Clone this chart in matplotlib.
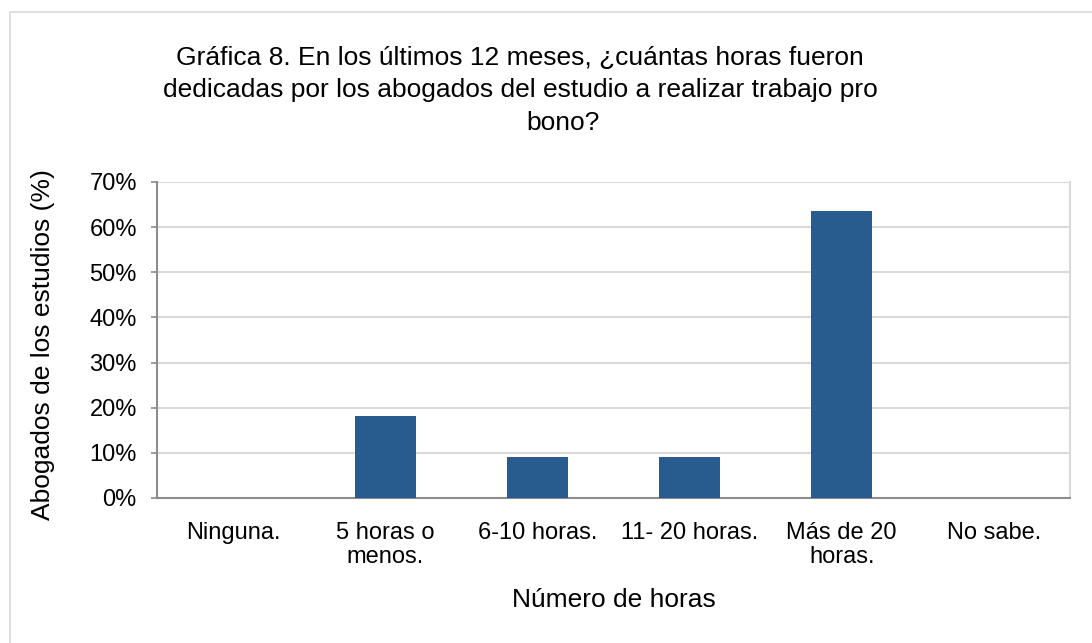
import matplotlib
matplotlib.use("Agg")
import matplotlib.pyplot as plt
from matplotlib.lines import Line2D
from matplotlib.ticker import FuncFormatter

categories = ["Ninguna.", "5 horas o\nmenos.", "6-10 horas.", "11- 20 horas.", "Más de 20\nhoras.", "No sabe."]
values = [0.0, 18.18, 9.09, 9.09, 63.64, 0.0]
yticks = [0, 10, 20, 30, 40, 50, 60, 70]
title_lines = ["Gráfica 8. En los últimos 12 meses, ¿cuántas horas fueron",
               "dedicadas por los abogados del estudio a realizar trabajo pro",
               "bono?"]

plt.rcParams['font.family'] = ['Liberation Sans', 'DejaVu Sans']

W, H = 1092, 643
fig = plt.figure(figsize=(W / 100, H / 100), dpi=100)
fig.patch.set_facecolor("white")

# outer border (only left and top visible, chart is cropped)
fig.add_artist(Line2D([9.5 / W, 9.5 / W, 1.0], [0.0, 1 - 11.5 / H, 1 - 11.5 / H],
                      transform=fig.transFigure, color="#d9d9d9", lw=1.2))

ax = fig.add_axes([157 / W, 1 - 498 / H, (1070 - 157) / W, (498 - 182) / H])
x = list(range(len(categories)))
ax.bar(x, values, width=0.4, color="#295C8E", zorder=3)
ax.set_xlim(-0.5, len(categories) - 0.5)
ax.set_ylim(0, 70)
ax.set_yticks(yticks)
ax.yaxis.set_major_formatter(FuncFormatter(lambda v, p: f"{int(v)}%"))
ax.set_xticks(x)
ax.set_xticklabels(categories, fontsize=17, linespacing=1.12)
ax.tick_params(axis="x", length=0, pad=17)
ax.tick_params(axis="y", labelsize=17, length=4.5, color="#8c8c8c", width=1.2, pad=10)
ax.grid(axis="y", color="#d9d9d9", lw=1.5, zorder=0)
ax.set_axisbelow(True)
ax.spines["top"].set_visible(False)
ax.spines["right"].set_color("#d9d9d9")
ax.spines["right"].set_linewidth(1.5)
ax.spines["left"].set_color("#8c8c8c")
ax.spines["left"].set_linewidth(1.5)
ax.spines["bottom"].set_color("#8c8c8c")
ax.spines["bottom"].set_linewidth(1.5)

ax.set_xlabel("Número de horas", fontsize=19)
ax.xaxis.set_label_coords(0.5, (498 - 600) / 316)
ax.xaxis.label.set_va("center")
ax.set_ylabel("Abogados de los estudios (%)", fontsize=19)
ax.yaxis.set_label_coords((43 - 157) / 913, (498 - 345) / 316)
ax.yaxis.label.set_va("center")

for ty, tx, line in zip([58, 90, 123], [520, 520, 563], title_lines):
    fig.text(tx / W, 1 - ty / H, line, ha="center", va="center", fontsize=19)

fig.savefig("out.png", dpi=100, facecolor="white")
